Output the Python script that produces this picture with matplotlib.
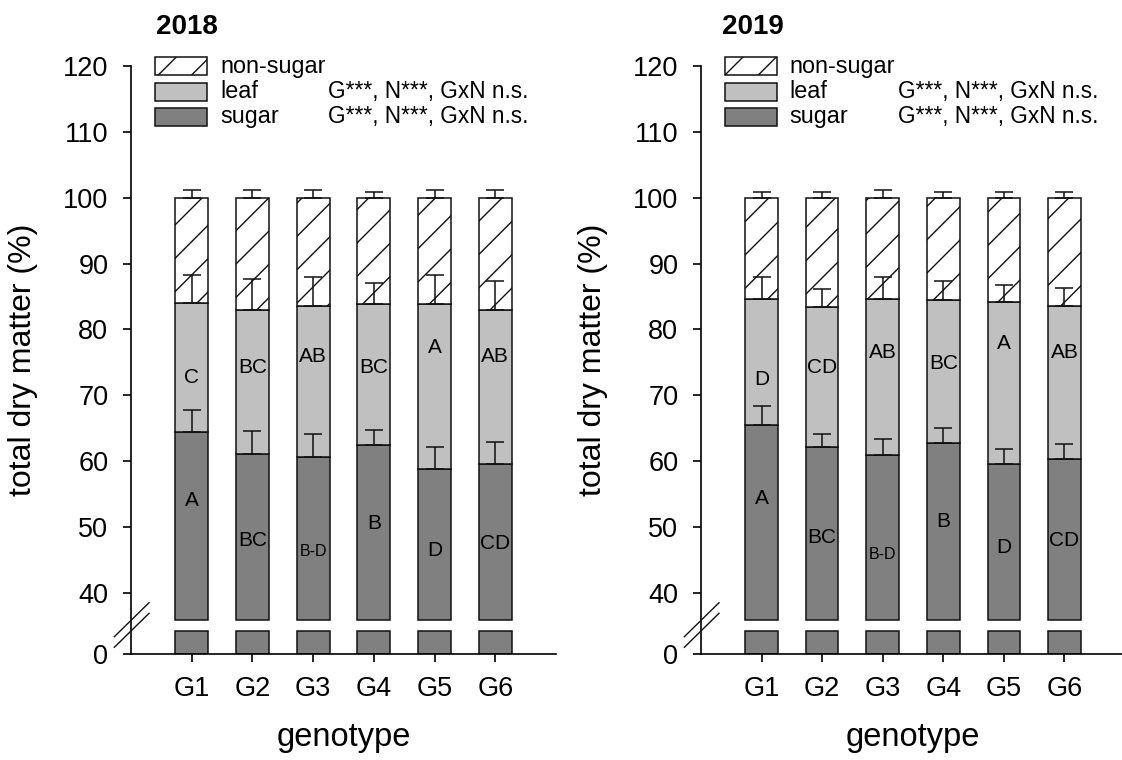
import numpy as np
import matplotlib
matplotlib.use('Agg')
import matplotlib.pyplot as plt
from matplotlib.patches import Rectangle

plt.rcParams['font.family'] = ['Liberation Sans', 'DejaVu Sans']
plt.rcParams['hatch.linewidth'] = 1.0

genotypes = ['G1', 'G2', 'G3', 'G4', 'G5', 'G6']

# 2018: fractions of total dry matter (%) and upper error
sugar_2018 = [64.5, 61.1, 60.7, 62.4, 58.8, 59.5]
leaf_2018 = [19.5, 21.9, 22.9, 21.4, 25.1, 23.5]
sugar_err_2018 = [3.3, 3.5, 3.4, 2.4, 3.3, 3.4]
leaf_err_2018 = [4.2, 4.6, 4.3, 3.2, 4.3, 4.3]
nonsugar_err_2018 = [1.1, 1.2, 1.2, 0.9, 1.2, 1.2]
sugar_letters_2018 = ['A', 'BC', 'B-D', 'B', 'D', 'CD']
leaf_letters_2018 = ['C', 'BC', 'AB', 'BC', 'A', 'AB']

# 2019
sugar_2019 = [65.5, 62.2, 61.0, 62.7, 59.5, 60.4]
leaf_2019 = [19.2, 21.2, 23.6, 21.8, 24.7, 23.2]
sugar_err_2019 = [2.9, 1.9, 2.3, 2.3, 2.3, 2.2]
leaf_err_2019 = [3.3, 2.7, 3.3, 2.8, 2.5, 2.7]
nonsugar_err_2019 = [0.8, 0.8, 1.1, 0.8, 0.8, 0.9]
sugar_letters_2019 = ['A', 'BC', 'B-D', 'B', 'D', 'CD']
leaf_letters_2019 = ['D', 'CD', 'AB', 'BC', 'A', 'AB']

anova_text = 'G***, N***, GxN n.s.'

# where the letters sit inside the bars
sugar_label_y = {2018: [54.0, 47.9, 46.3, 50.5, 46.4, 47.5],
                 2019: [54.3, 48.4, 45.9, 50.9, 46.9, 47.9]}
leaf_label_y = {2018: [72.7, 74.2, 75.9, 74.3, 77.3, 75.9],
                2019: [72.4, 74.2, 76.5, 74.9, 77.8, 76.5]}
title_x = {2018: 0.059, 2019: 0.05}

SUGAR_C = '#808080'
LEAF_C = '#c0c0c0'
EDGE = '#111111'

# broken y axis: keep 0..LO, squeeze LO..HI into a small gap
LO, HI, GAP = 3.5, 35.9, 1.67
src = [0, LO, HI, 1000]
dst = [0, LO, LO + GAP, LO + GAP + 1000 - HI]


def fwd(y):
    return np.interp(y, src, dst)


def inv(t):
    return np.interp(t, dst, src)


def draw_panel(ax, year, sugar, leaf, sugar_err, leaf_err, ns_err,
               sugar_letters, leaf_letters):
    x = np.arange(1, len(genotypes) + 1)
    sugar = np.array(sugar)
    leaf = np.array(leaf)
    leaf_top = sugar + leaf
    nonsugar = 100 - leaf_top
    w = 0.54
    kw = dict(width=w, edgecolor=EDGE, linewidth=1.1, zorder=2)

    ax.set_yscale('function', functions=(fwd, inv))

    ax.bar(x, np.minimum(sugar, LO), bottom=0, color=SUGAR_C, **kw)
    ax.bar(x, sugar - HI, bottom=HI, color=SUGAR_C, **kw)
    ax.bar(x, leaf, bottom=sugar, color=LEAF_C, **kw)
    ax.bar(x, nonsugar, bottom=leaf_top, color='white', hatch='/', **kw)

    zeros = np.zeros(len(x))
    ekw = dict(fmt='none', ecolor=EDGE, elinewidth=1.1, capsize=6.5,
               capthick=1.1, zorder=3)
    ax.errorbar(x, sugar, yerr=[zeros, sugar_err], **ekw)
    ax.errorbar(x, leaf_top, yerr=[zeros, leaf_err], **ekw)
    ax.errorbar(x, leaf_top + nonsugar, yerr=[zeros, ns_err], **ekw)

    for xi, lab, yy in zip(x, sugar_letters, sugar_label_y[year]):
        ax.text(xi, yy, lab, ha='center', va='center', zorder=4,
                fontsize=11.5 if '-' in lab else 15)
    for xi, lab, yy in zip(x, leaf_letters, leaf_label_y[year]):
        ax.text(xi, yy, lab, ha='center', va='center', zorder=4, fontsize=15)

    ax.set_xlim(0, 7)
    ax.set_ylim(0, 120)
    ax.set_xticks(x)
    ax.set_xticklabels(genotypes)
    ax.set_yticks([0, 40, 50, 60, 70, 80, 90, 100, 110, 120])
    ax.set_yticklabels(['0', '40', '50', '60', '70', '80', '90', '100', '110', '120'])
    ax.minorticks_off()

    for s in ['top', 'right']:
        ax.spines[s].set_visible(False)
    for s in ['left', 'bottom']:
        ax.spines[s].set_linewidth(1.2)
    ax.tick_params(axis='both', direction='out', length=5.8, width=1.2,
                   labelsize=19.5)
    ax.tick_params(axis='y', pad=10.5)
    ax.tick_params(axis='x', pad=10)

    ax.set_xlabel('genotype', fontsize=23.5)
    ax.set_ylabel('total dry matter (%)', fontsize=23)
    ax.xaxis.set_label_coords(0.5, -0.1156)
    ax.yaxis.set_label_coords(-0.219, 0.5)

    # axis break marks
    for y0, y1 in [(0.0294, 0.0872), (0.0114, 0.0692)]:
        ax.plot([-0.0393, 0.0424], [y0, y1], transform=ax.transAxes,
                color=EDGE, lw=1.0, clip_on=False, zorder=5)

    ax.text(title_x[year], 1.054, str(year), transform=ax.transAxes,
            fontsize=20, fontweight='bold', va='baseline', ha='left')

    # legend with ANOVA results
    rows = [('non-sugar', 'white', '/', ''),
            ('leaf', LEAF_C, None, anova_text),
            ('sugar', SUGAR_C, None, anova_text)]
    yc = [1.0, 0.9566, 0.9133]
    for (name, fc, hatch, note), y in zip(rows, yc):
        ax.add_patch(Rectangle((0.0565, y - 0.0153), 0.1224, 0.0306,
                               transform=ax.transAxes, facecolor=fc,
                               hatch=hatch, edgecolor=EDGE, linewidth=1.1,
                               clip_on=False))
        ax.text(0.2094, y, name, transform=ax.transAxes, fontsize=16.8,
                va='center', ha='left')
        if note:
            ax.text(0.4635, y, note, transform=ax.transAxes, fontsize=16.3,
                    va='center', ha='left')


fig = plt.figure(figsize=(11.22, 7.6), dpi=100)
ax1 = fig.add_axes([131 / 1122, 106 / 760, 425 / 1122, 588 / 760])
ax2 = fig.add_axes([701 / 1122, 106 / 760, 424 / 1122, 588 / 760])

draw_panel(ax1, 2018, sugar_2018, leaf_2018, sugar_err_2018, leaf_err_2018,
           nonsugar_err_2018, sugar_letters_2018, leaf_letters_2018)
draw_panel(ax2, 2019, sugar_2019, leaf_2019, sugar_err_2019, leaf_err_2019,
           nonsugar_err_2019, sugar_letters_2019, leaf_letters_2019)

fig.savefig('out.png', dpi=100)
